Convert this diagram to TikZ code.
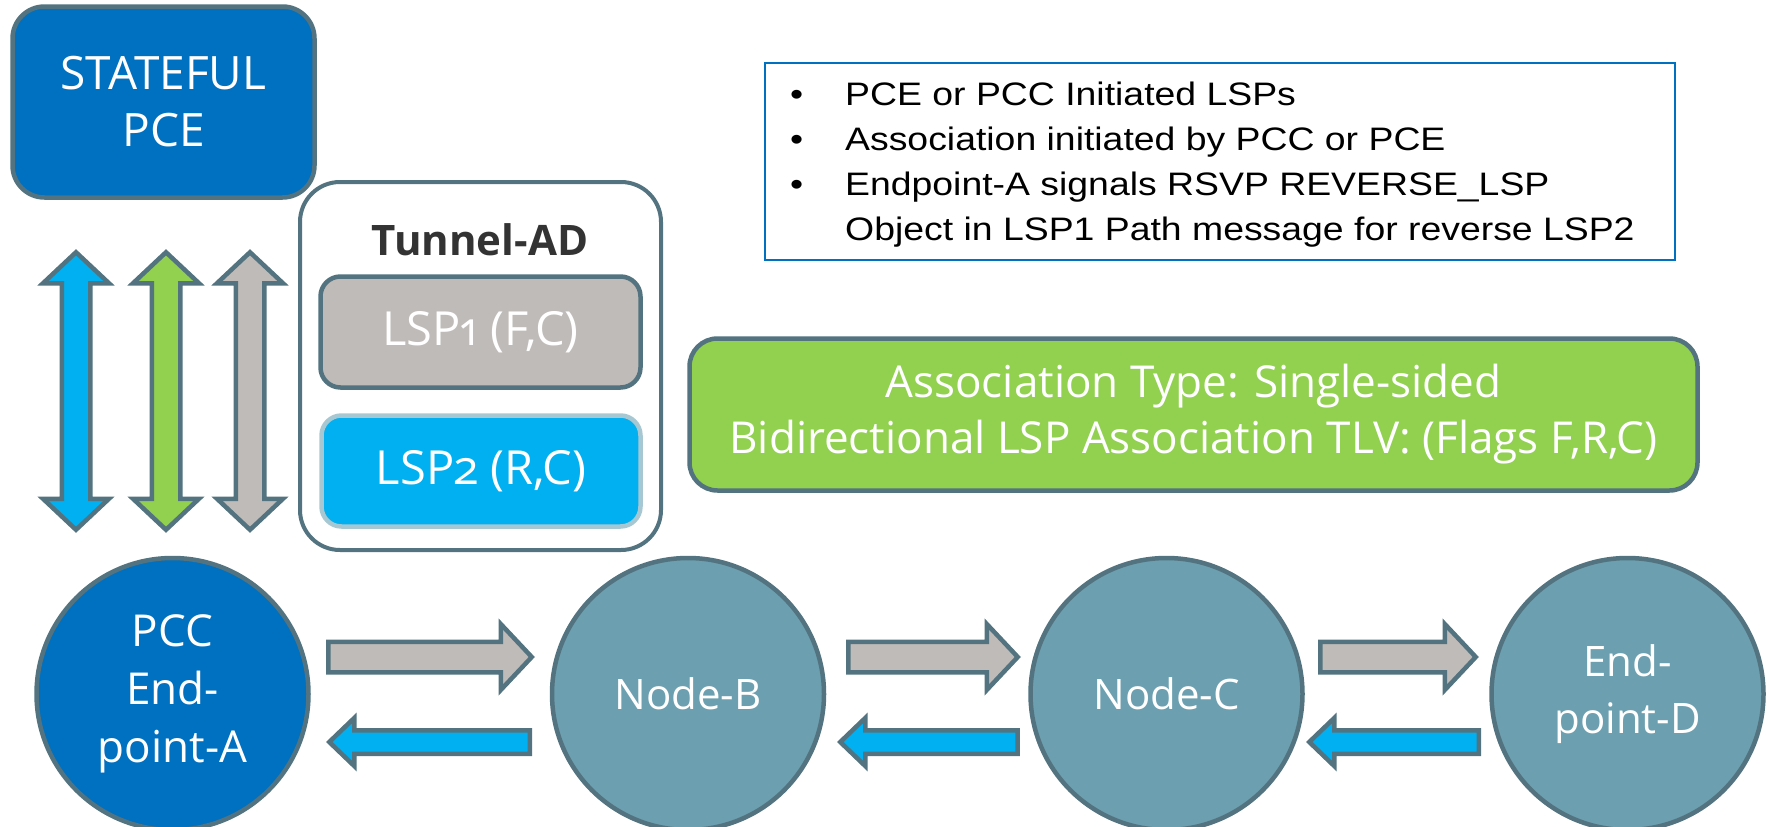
\documentclass[tikz,border=0pt]{standalone}
\usepackage{fontspec}
\setmainfont{Open Sans}
\newfontfamily\lspfont[Numbers=OldStyle]{Open Sans}
\newfontfamily\infofont[FakeStretch=1.15]{Liberation Sans}
\usetikzlibrary{calc}

\definecolor{pceblue}{HTML}{0070C0}
\definecolor{rimgray}{HTML}{52737F}
\definecolor{nodeteal}{HTML}{6C9FAF}
\definecolor{fwdgray}{HTML}{BFBBB8}
\definecolor{revblue}{HTML}{00B0F0}
\definecolor{assocgreen}{HTML}{92D050}
\definecolor{lsprim}{HTML}{A7C8D3}
\definecolor{labeldark}{HTML}{333333}

\newcommand{\boxfont}{\fontsize{42}{57}\selectfont}

% block arrow: style, tail, tip, shaft half width, head half width, head length
\newcommand{\lsparrow}[6]{%
  \coordinate (bb) at ($(#3)!#6!(#2)$);
  \draw[#1] ($(#2)!#4!-90:(#3)$) -- ($(bb)!#4!90:(#2)$) -- ($(bb)!#5!90:(#2)$)
    -- (#3) -- ($(bb)!#5!-90:(#2)$) -- ($(bb)!#4!-90:(#2)$)
    -- ($(#2)!#4!90:(#3)$) -- cycle;
}
% double block arrow: style, end, end, shaft half width, head half width, head length
\newcommand{\pcearrow}[6]{%
  \coordinate (b1) at ($(#2)!#6!(#3)$);
  \coordinate (b2) at ($(#3)!#6!(#2)$);
  \draw[#1] (#2) -- ($(b1)!#5!90:(#3)$) -- ($(b1)!#4!90:(#3)$)
    -- ($(b2)!#4!-90:(#2)$) -- ($(b2)!#5!-90:(#2)$) -- (#3)
    -- ($(b2)!#5!90:(#2)$) -- ($(b2)!#4!90:(#2)$)
    -- ($(b1)!#4!-90:(#3)$) -- ($(b1)!#5!-90:(#3)$) -- cycle;
}

\tikzset{
  rim/.style={draw=rimgray, line width=4.5pt},
  blockedge/.style={rim},
  pcebox/.style={rim, fill=pceblue, rounded corners=32pt, text=white,
    align=center, font=\fontsize{46}{57}\selectfont},
  tunnelbox/.style={draw=rimgray, line width=4pt, rounded corners=40pt},
  lspbox/.style={rim, rounded corners=20pt, text=white, font=\lspfont\fontsize{47}{57}\selectfont},
  infobox/.style={draw=pceblue, line width=1.6pt},
  assocbox/.style={rim, fill=assocgreen, rounded corners=28pt, text=white,
    align=center, font=\fontsize{44}{56}\selectfont},
  endnode/.style={rim, circle, fill=nodeteal, minimum size=272pt, inner sep=0pt,
    text=white, align=center, font=\boxfont},
}

\begin{document}
\begin{tikzpicture}[x=1pt, y=-1pt]
\useasboundingbox (0,0) rectangle (1770,827);

\node[pcebox, minimum width=302pt, minimum height=191pt] (pce) at (163.5,102) {STATEFUL\\PCE};

% tunnel with its two LSPs
\node[tunnelbox, minimum width=361pt, minimum height=368pt] (tunnel) at (480.5,366) {};
\node[anchor=base, inner sep=0pt, text=labeldark, font=\bfseries\boxfont] (tunnellabel) at (480,255) {Tunnel-AD};
\node[lspbox, fill=fwdgray, minimum width=320pt, minimum height=111pt] (lsp1) at (480.5,332) {LSP1 (F,C)};
\node[lspbox, fill=revblue, draw=lsprim, minimum width=319pt, minimum height=111pt] (lsp2) at (481,471) {LSP2 (R,C)};

\node[infobox, minimum width=910pt, minimum height=197pt] (info) at (1220,161.5) {};
\node[anchor=base west, inner sep=0pt, font={\infofont\fontsize{32.5}{45}\selectfont}] (infotext) at (790,105)
  {\begin{tabular}[t]{@{}p{55pt}@{}l@{}}
   \textbullet & PCE or PCC Initiated LSPs\\
   \textbullet & Association initiated by PCC or PCE\\
   \textbullet & Endpoint-A signals RSVP REVERSE\_LSP\\
               & Object in LSP1 Path message for reverse LSP2
   \end{tabular}};

\node[assocbox, minimum width=1008pt, minimum height=152pt] (assoc) at (1193.5,414.5)
  {Association Type: Single-sided\\Bidirectional LSP Association TLV: (Flags F,R,C)};

% path nodes
\node[endnode, fill=pceblue, font=\fontsize{44}{58}\selectfont] (pcc) at (172.5,694) {PCC\\End-\\point-A};
\node[endnode] (nb) at (688,694) {Node-B};
\node[endnode] (nc) at (1166.5,694) {Node-C};
\node[endnode] (nd) at (1627.5,694) {End-\\point-D};

% PCEP sessions
\foreach \dx/\col [count=\i] in {-87.5/revblue, 2.5/assocgreen, 86.5/fwdgray} {
  \coordinate (pu\i) at ($(pce.south)+(\dx,52.5)$);
  \coordinate (pd\i) at ($(pu\i |- pcc.north)+(0,-26)$);
  \pcearrow{blockedge, fill=\col}{pu\i}{pd\i}{14.25pt}{33pt}{31pt}
}

% LSP1 forward, LSP2 reverse
\coordinate (fa1) at ($(pcc.east)+(17.5,-37)$);
\coordinate (fb1) at ($(nb.west)+(-18,-37)$);
\coordinate (fa2) at ($(nb.east)+(22,-37)$);
\coordinate (fb2) at ($(nc.west)+(-10.5,-37)$);
\coordinate (fa3) at ($(nc.east)+(15.5,-37)$);
\coordinate (fb3) at ($(nd.west)+(-13.5,-37)$);
\coordinate (ra1) at ($(nb.west)+(-20,48)$);
\coordinate (rb1) at ($(pcc.east)+(18.5,48)$);
\coordinate (ra2) at ($(nc.west)+(-10.75,48)$);
\coordinate (rb2) at ($(nb.east)+(14,48)$);
\coordinate (ra3) at ($(nd.west)+(-10.5,48)$);
\coordinate (rb3) at ($(nc.east)+(4.5,48)$);
\foreach \i in {1,2,3} {
  \lsparrow{blockedge, fill=fwdgray}{fa\i}{fb\i}{15.25pt}{33pt}{31pt}
  \lsparrow{blockedge, fill=revblue}{ra\i}{rb\i}{11.75pt}{24pt}{25pt}
}
\end{tikzpicture}
\end{document}
